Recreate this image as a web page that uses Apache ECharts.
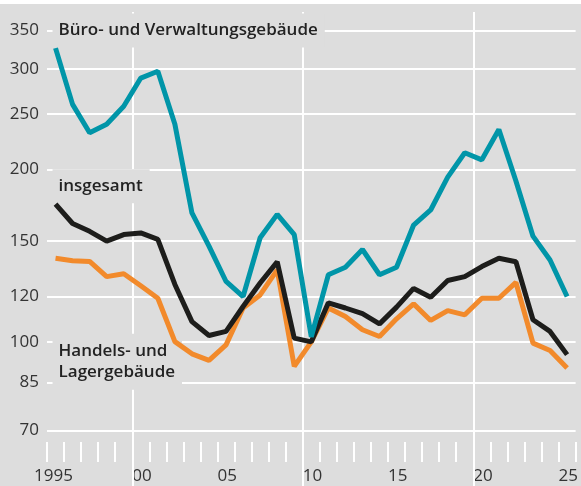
<!DOCTYPE html>
<html><head><meta charset="utf-8">
<script src="https://cdn.jsdelivr.net/npm/echarts@6/dist/echarts.min.js"></script>
<style>html,body{margin:0;padding:0;background:#fff}#c{width:581px;height:486px}</style>
</head><body><div id="c"></div>
<script>
const years = [1995,1996,1997,1998,1999,2000,2001,2002,2003,2004,2005,2006,2007,2008,2009,2010,2011,2012,2013,2014,2015,2016,2017,2018,2019,2020,2021,2022,2023,2024,2025];
const buero = [326,260,232,240,258,289,297,240,168,147,127.5,120,152,167,154,102,131,135,145,131,135,160,170,194,214,208,235,191,153,139,120];
const insgesamt = [174,161,156,150,154,155,151,126,108.5,102.6,104.3,115.3,126.7,138,101.5,100,117,114.6,112,107.5,115,124,119.7,128,130,135.4,140,138,109.3,104.3,95];
const handel = [140,138.6,138.2,130,131.5,125.3,119.2,100.1,95.3,92.8,98.8,114.6,120.8,133.6,90.6,100,114.6,110.7,105,102.2,109.7,116.5,109,113.4,111.5,119.2,119.2,127,99.5,96.6,90];
const yTicks = [70,85,100,120,150,200,250,300,350];
const xGridYears = [2000,2010,2020];
const labelBuero = 'Büro- und Verwaltungsgebäude';
const labelGesamt = 'insgesamt';
const labelHandel = 'Handels- und\nLagergebäude';

const FONT = 'Open Sans';
const BG = '#dddddd';
const pts = arr => arr.map((v,i)=>[years[i]+0.5, v]);

const annot = (text, y, lh) => ({
  coord:[1995.5, y],
  label:{show:true, position:'right', distance:-3, formatter:text,
    backgroundColor:BG, padding:[8,7,6,6], fontSize:17, fontWeight:600,
    color:'#222', fontFamily:FONT, lineHeight:lh||20}
});

const chart = echarts.init(document.getElementById('c'), null, {renderer:'canvas'});
chart.setOption({
  backgroundColor: BG,
  animation:false,
  graphic:[{type:'rect', shape:{x:0,y:0,width:581,height:4}, style:{fill:'#fff'}, z:100}],
  grid:{left:47, right:4, top:12, bottom:0, containLabel:false},
  xAxis:{type:'value', min:1995, max:2026, interval:1, offset:-44,
    axisLine:{show:false}, splitLine:{show:false},
    axisTick:{show:true, length:20, lineStyle:{color:'#fff', width:2}},
    axisLabel:{show:true, margin:26, align:'left', alignMinLabel:'center',
      fontSize:17, color:'#333', fontFamily:FONT,
      formatter: v => v % 5 !== 0 ? '' : (v===1995 ? '{f|1995}' : String(v).slice(2)),
      rich:{f:{padding:[0,0,0,13], fontSize:17, color:'#333', fontFamily:FONT}}
    }},
  yAxis:{type:'log', logBase:10, min:56, max:377,
    axisLine:{show:false}, axisTick:{show:false}, axisLabel:{show:false}, splitLine:{show:false}},
  series:[
    {type:'line', data:[], z:1, silent:true,
      markLine:{silent:true, z:1, symbol:['none','none'], animation:false,
        lineStyle:{color:'#fff', width:2, type:'solid'},
        data:[
          ...yTicks.map(v=>({yAxis:v, label:{show:true, position:'start', distance:8,
            formatter:String(v), fontSize:17, color:'#333', fontFamily:FONT}})),
          ...xGridYears.map(v=>({xAxis:v, label:{show:false}}))
        ]},
      markPoint:{silent:true, z:2, animation:false, symbol:'circle', symbolSize:0,
        itemStyle:{color:'transparent'},
        data:[annot(labelBuero, 350), annot(labelGesamt, 187), annot(labelHandel, 92.3, 21)]}
    },
    {name:'Handel', type:'line', data:pts(handel), showSymbol:false, z:3,
      lineStyle:{color:'#f28a2b', width:5}, itemStyle:{color:'#f28a2b'}},
    {name:'insgesamt', type:'line', data:pts(insgesamt), showSymbol:false, z:4,
      lineStyle:{color:'#1d1d1b', width:5}, itemStyle:{color:'#1d1d1b'}},
    {name:'Buero', type:'line', data:pts(buero), showSymbol:false, z:5,
      lineStyle:{color:'#0095a8', width:5}, itemStyle:{color:'#0095a8'}}
  ]
});
</script></body></html>
